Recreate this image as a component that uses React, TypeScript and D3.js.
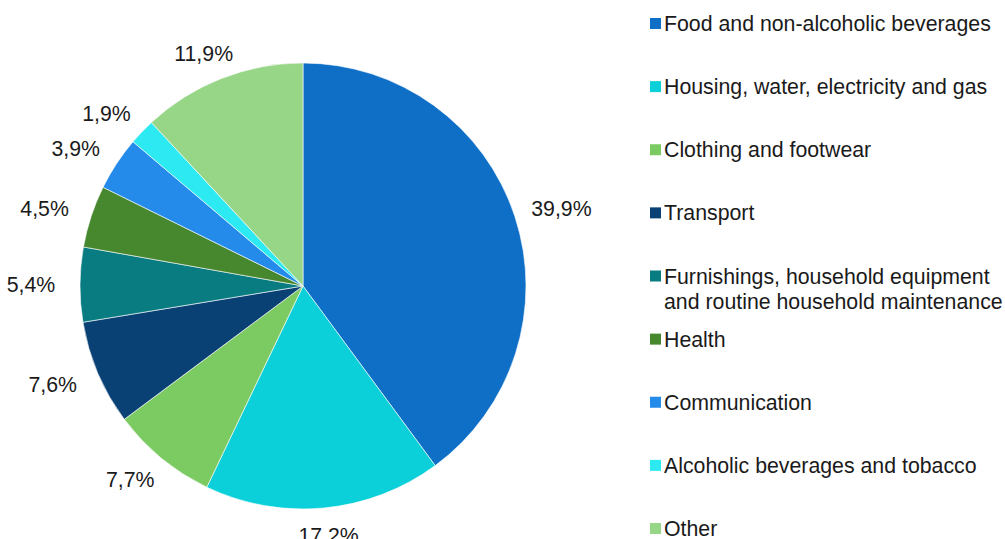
import React from 'react';
import * as d3 from 'd3';

const categories = [
  'Food and non-alcoholic beverages',
  'Housing, water, electricity and gas',
  'Clothing and footwear',
  'Transport',
  'Furnishings, household equipment\nand routine household maintenance',
  'Health',
  'Communication',
  'Alcoholic beverages and tobacco',
  'Other',
];
const values = [39.9, 17.2, 7.7, 7.6, 5.4, 4.5, 3.9, 1.9, 11.9];
const labels = ['39,9%', '17,2%', '7,7%', '7,6%', '5,4%', '4,5%', '3,9%', '1,9%', '11,9%'];
const colors = ['#0F6FC6', '#0BD0D9', '#7CCA62', '#0A4174', '#087C80', '#47882E', '#248BEB', '#2CE9F2', '#97D587'];

const W = 1005;
const H = 539;
const cx = 303;
const cy = 286;
const R = 223;
const FONT = '"Liberation Sans", Arial, sans-serif';
const FS = 21.3;

export default function App() {
  const pie = d3.pie<number>().sort(null).value((d) => d)(values);
  const arc = d3.arc<d3.PieArcDatum<number>>().innerRadius(0).outerRadius(R);
  const legendY = d3.scaleLinear().domain([0, categories.length - 1]).range([31, 536]);

  return (
    <div style={{ position: 'absolute', left: 0, top: 0, width: W, height: H, overflow: 'hidden', background: '#fff' }}>
      <svg width={W} height={H} style={{ display: 'block' }}>
        <g transform={`translate(${cx},${cy})`}>
          {pie.map((p, i) => (
            <path key={i} d={arc(p) || ''} fill={colors[i]} stroke="#fff" strokeWidth={0.6} />
          ))}
          {pie.map((p, i) => {
            const a = (p.startAngle + p.endAngle) / 2;
            const x = 272 * Math.sin(a);
            const y = -250 * Math.cos(a);
            return (
              <text key={i} x={x} y={y} dy="0.36em" textAnchor="middle" fontFamily={FONT} fontSize={FS} fill="#1a1a1a">
                {labels[i]}
              </text>
            );
          })}
        </g>
        <g>
          {categories.map((c, i) => {
            const by = legendY(i);
            const lines = c.split('\n');
            return (
              <g key={i}>
                <rect x={650} y={by - 13} width={11} height={11} fill={colors[i]} />
                {lines.map((ln, j) => (
                  <text key={j} x={664} y={by + j * 25} fontFamily={FONT} fontSize={FS} fill="#1a1a1a">
                    {ln}
                  </text>
                ))}
              </g>
            );
          })}
        </g>
      </svg>
    </div>
  );
}
